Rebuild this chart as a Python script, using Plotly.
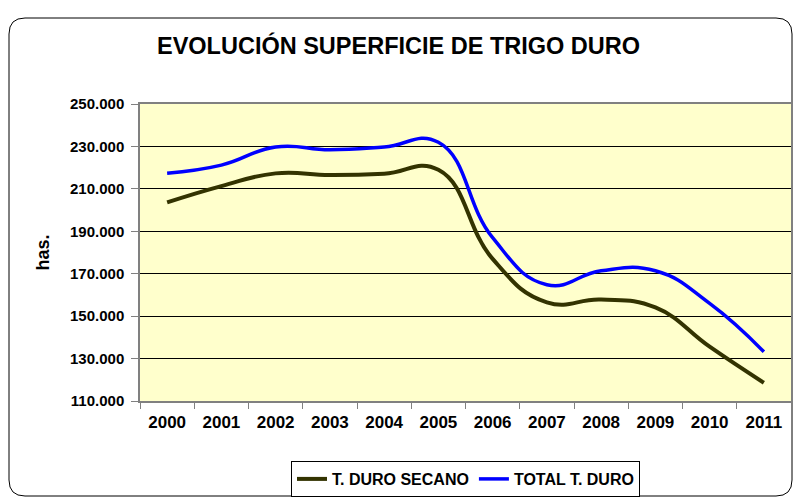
import plotly.graph_objects as go

# ---- data ----
years = ["2000", "2001", "2002", "2003", "2004", "2005",
         "2006", "2007", "2008", "2009", "2010", "2011"]
secano = [203600, 211300, 217300, 216500, 217100, 219000,
          177000, 156500, 157800, 154100, 135600, 118600]
total = [217400, 221200, 229700, 228400, 229700, 232000,
         187000, 164800, 171400, 171400, 156000, 133200]
y_ticks = [110000, 130000, 150000, 170000, 190000, 210000, 230000, 250000]

W, H = 797, 497
ML, MR, MT, MB = 140, 6, 104, 96
PW, PH = W - ML - MR, H - MT - MB

FONT = "Arial, Liberation Sans, sans-serif"


def px(xp):
    return (xp - ML) / PW


def py(yp):
    return (H - MB - yp) / PH


fig = go.Figure()
fig.add_trace(go.Scatter(
    x=years, y=secano, name="T. DURO SECANO", mode="lines",
    line=dict(color="#333300", width=4, shape="spline", smoothing=1.3),
))
fig.add_trace(go.Scatter(
    x=years, y=total, name="TOTAL T. DURO", mode="lines",
    line=dict(color="#0000FF", width=3.5, shape="spline", smoothing=1.3),
))

# outer rounded frame
x0, x1, y0, y1, r = 9, 792, 18, 496, 16
rx, ry = r / PW, r / PH
X0, X1, Y0, Y1 = px(x0), px(x1), py(y0), py(y1)
path = (f"M {X0+rx},{Y0} L {X1-rx},{Y0} Q {X1},{Y0} {X1},{Y0-ry} "
        f"L {X1},{Y1+ry} Q {X1},{Y1} {X1-rx},{Y1} "
        f"L {X0+rx},{Y1} Q {X0},{Y1} {X0},{Y1+ry} "
        f"L {X0},{Y0-ry} Q {X0},{Y0} {X0+rx},{Y0} Z")
fig.add_shape(type="path", path=path, xref="paper", yref="paper",
              line=dict(color="#000000", width=1), layer="below")

fig.add_annotation(text="has.", textangle=-90, xref="paper", yref="paper",
                   x=px(42), y=0.5, xanchor="center", yanchor="middle",
                   showarrow=False,
                   font=dict(family=FONT, size=18, color="#000", weight="bold"))

fig.update_layout(
    width=W, height=H,
    margin=dict(l=ML, r=MR, t=MT, b=MB, autoexpand=False),
    paper_bgcolor="#FFFFFF",
    plot_bgcolor="#FFFFCC",
    separators=",.",
    title=dict(text="EVOLUCIÓN SUPERFICIE DE TRIGO DURO",
               x=0.5, xref="container", xanchor="center",
               y=1 - 46 / H, yref="container", yanchor="middle",
               font=dict(family=FONT, size=23.5, color="#000", weight="bold")),
    showlegend=True,
    legend=dict(orientation="h", x=0.5, xanchor="center",
                y=py(461), yanchor="top",
                bordercolor="#000000", borderwidth=1, bgcolor="#FFFFFF",
                font=dict(family=FONT, size=16, color="#000", weight="bold"),
                itemwidth=30, tracegroupgap=0),
    font=dict(family=FONT, color="#000"),
)

fig.update_xaxes(
    type="category", range=[-0.5, 11.5], tickson="boundaries",
    ticks="outside", ticklen=6, automargin=False,
    tickcolor="#808080", showline=True, linecolor="#808080", linewidth=1.5,
    mirror=True, showgrid=False, ticklabelstandoff=5,
    tickfont=dict(family=FONT, size=17, color="#000", weight="bold"),
)
fig.update_yaxes(
    range=[110000, 250000], tickvals=y_ticks, tickformat=",d",
    ticks="outside", ticklen=7, tickcolor="#808080", automargin=False,
    showline=True, linecolor="#808080", linewidth=1.5, mirror=True,
    showgrid=True, gridcolor="#000000", gridwidth=1, zeroline=False,
    tickfont=dict(family=FONT, size=15, color="#000", weight="bold"),
    ticklabelstandoff=4,
)

fig.write_html(
    "out.html",
    config={"displayModeBar": False},
    post_script="document.body.style.margin='0';document.body.style.overflow='hidden';",
)
